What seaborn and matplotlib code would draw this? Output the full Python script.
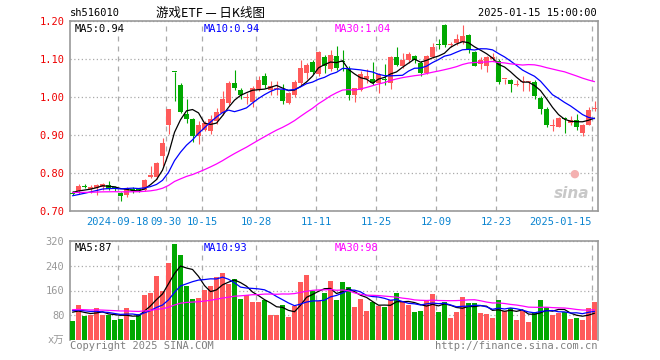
import matplotlib
matplotlib.use("Agg")
import matplotlib.pyplot as plt
import numpy as np
import pandas as pd
import seaborn as sns

# 游戏ETF sh516010 daily K-line, 2024-09-04 .. 2025-01-15
open_ = [0.748, 0.752, 0.766, 0.758, 0.760, 0.763, 0.768, 0.762, 0.747, 0.741,
         0.757, 0.757, 0.756, 0.790, 0.790, 0.844, 0.927, 1.066, 1.032, 0.954,
         0.943, 0.896, 0.914, 0.910, 0.936, 0.958, 0.984, 1.035, 1.017, 0.996,
         0.986, 1.019, 1.056, 1.017, 1.020, 1.017, 0.984, 1.006, 1.037, 1.063,
         1.091, 1.059, 1.104, 1.072, 1.107, 1.093, 1.074, 1.004, 1.017, 1.046,
         1.046, 1.037, 1.048, 1.037, 1.104, 1.081, 1.096, 1.107, 1.089, 1.063,
         1.104, 1.139, 1.188, 1.135, 1.141, 1.143, 1.162, 1.117, 1.085, 1.082,
         1.099, 1.094, 1.046, 1.044, 1.032, 1.039, 1.038, 1.040, 0.996, 0.967,
         0.924, 0.922, 0.943, 0.930, 0.939, 0.906, 0.927, 0.967]
high = [0.752, 0.772, 0.770, 0.768, 0.772, 0.773, 0.780, 0.766, 0.750, 0.763,
        0.762, 0.760, 0.785, 0.818, 0.830, 0.892, 0.969, 1.066, 1.036, 0.993,
        0.945, 0.936, 0.936, 0.953, 0.971, 1.015, 1.042, 1.070, 1.024, 1.010,
        1.028, 1.054, 1.063, 1.041, 1.041, 1.033, 1.012, 1.044, 1.098, 1.089,
        1.098, 1.120, 1.111, 1.124, 1.133, 1.124, 1.081, 1.022, 1.067, 1.072,
        1.091, 1.063, 1.085, 1.106, 1.132, 1.115, 1.117, 1.109, 1.094, 1.111,
        1.142, 1.152, 1.191, 1.143, 1.165, 1.188, 1.164, 1.120, 1.105, 1.107,
        1.115, 1.099, 1.048, 1.046, 1.043, 1.054, 1.042, 1.043, 1.001, 0.972,
        0.943, 0.946, 0.947, 0.949, 0.956, 0.928, 0.973, 0.988]
low = [0.742, 0.745, 0.760, 0.748, 0.743, 0.755, 0.756, 0.752, 0.725, 0.738,
       0.748, 0.750, 0.752, 0.786, 0.784, 0.818, 0.901, 0.988, 0.958, 0.932,
       0.881, 0.875, 0.909, 0.901, 0.928, 0.953, 0.979, 1.017, 0.993, 0.981,
       0.973, 1.015, 1.024, 1.005, 1.005, 0.980, 0.980, 1.000, 1.030, 1.046,
       1.059, 1.056, 1.063, 1.067, 1.070, 1.067, 0.991, 0.986, 1.015, 1.037,
       1.031, 1.011, 1.031, 1.020, 1.081, 1.077, 1.090, 1.089, 1.054, 1.059,
       1.101, 1.126, 1.132, 1.132, 1.136, 1.139, 1.115, 1.080, 1.072, 1.065,
       1.095, 1.034, 1.033, 1.013, 1.028, 1.014, 1.015, 0.995, 0.956, 0.921,
       0.909, 0.920, 0.905, 0.927, 0.913, 0.897, 0.925, 0.962]
close = [0.745, 0.766, 0.764, 0.762, 0.769, 0.771, 0.759, 0.757, 0.739, 0.759,
         0.755, 0.755, 0.782, 0.795, 0.826, 0.879, 0.969, 1.065, 0.960, 0.943,
         0.896, 0.925, 0.930, 0.943, 0.961, 0.993, 1.035, 1.024, 1.005, 0.998,
         1.024, 1.043, 1.031, 1.028, 1.024, 0.989, 1.009, 1.039, 1.075, 1.083,
         1.066, 1.118, 1.081, 1.109, 1.075, 1.091, 1.004, 1.022, 1.059, 1.056,
         1.037, 1.059, 1.044, 1.104, 1.083, 1.098, 1.113, 1.098, 1.063, 1.107,
         1.131, 1.137, 1.135, 1.140, 1.151, 1.161, 1.124, 1.081, 1.096, 1.105,
         1.104, 1.040, 1.047, 1.033, 1.033, 1.040, 1.040, 1.002, 0.967, 0.927,
         0.926, 0.945, 0.941, 0.940, 0.921, 0.925, 0.965, 0.969]
# volume, 万
volume = [63, 115, 77, 80, 105, 80, 82, 66, 69, 105,
          66, 85, 144, 153, 206, 157, 248, 309, 273, 174,
          134, 137, 161, 176, 202, 215, 180, 196, 134, 144,
          122, 122, 131, 82, 82, 112, 74, 109, 186, 209,
          158, 125, 151, 190, 128, 187, 171, 106, 132, 93,
          122, 111, 108, 128, 151, 122, 115, 90, 95, 128,
          150, 90, 122, 73, 92, 138, 119, 119, 89, 83,
          71, 128, 95, 105, 66, 95, 60, 92, 128, 106,
          82, 88, 91, 70, 72, 66, 105, 122]
# 29 sessions before the window (only feed the moving averages, not drawn)
pre_close = [0.755, 0.758, 0.754, 0.752, 0.756, 0.753, 0.750, 0.752, 0.755, 0.751,
             0.749, 0.753, 0.756, 0.752, 0.750, 0.748, 0.752, 0.754, 0.749, 0.751,
             0.735, 0.730, 0.728, 0.731, 0.732, 0.748, 0.752, 0.750, 0.750]
pre_volume = [102, 98, 105, 96, 100, 108, 94, 99, 103, 97,
              101, 95, 104, 99, 100, 106, 93, 98, 102, 100,
              103, 97, 101, 99, 104, 96, 100, 98, 95]

holidays = ["2024-09-16", "2024-09-17", "2024-10-01", "2024-10-02", "2024-10-03",
            "2024-10-04", "2024-10-07", "2025-01-01"]
tick_dates = ["2024-09-18", "2024-09-30", "2024-10-15", "2024-10-28", "2024-11-11",
              "2024-11-25", "2024-12-09", "2024-12-23", "2025-01-15"]

RED = "#ff5a5a"
GREEN = "#00a800"
GRID = "#aaaaaa"
MONO = ["DejaVu Sans Mono", "Noto Sans CJK SC"]

dates = pd.bdate_range("2024-09-04", "2025-01-15", freq="C", holidays=holidays)
df = pd.DataFrame({"date": dates, "o": open_, "h": high, "l": low, "c": close, "vol": volume})
df["x"] = np.arange(len(df))
df["dir"] = np.where(df["c"] >= df["o"], "up", "down")
npre = len(pre_close)
all_c = pd.Series(pre_close + close)
all_v = pd.Series(pre_volume + volume)
for w in (5, 10, 30):
    df[f"ma{w}"] = all_c.rolling(w, min_periods=1).mean().iloc[npre:].to_numpy()
    df[f"vma{w}"] = all_v.rolling(w, min_periods=1).mean().iloc[npre:].to_numpy()

sns.set_theme(style="white")
plt.rcParams["font.family"] = MONO

fig = plt.figure(figsize=(6.6, 3.6), dpi=100)
W, H = 660, 360
ax1 = fig.add_axes([70 / W, (H - 211) / H, 527.5 / W, 190.3 / H])
ax2 = fig.add_axes([70 / W, (H - 340.3) / H, 527.5 / W, 99.6 / H])

colors = np.where(df["dir"] == "up", RED, GREEN)
xlim = (-0.42, 87.5)
tick_x = [df.index[df["date"] == pd.Timestamp(d)][0] - 0.42 for d in tick_dates]

# ---- price panel
ax1.vlines(df["x"], df["l"], df["h"], colors=colors, lw=0.8, zorder=2)
body = np.maximum((df["c"] - df["o"]).abs(), 0.0026)
ax1.bar(df["x"], body, bottom=np.minimum(df["o"], df["c"]), width=0.83,
        color=colors, linewidth=0, zorder=3)
for col, clr in (("ma5", "black"), ("ma10", "#0000ff"), ("ma30", "#ff00ff")):
    sns.lineplot(data=df, x="x", y=col, color=clr, lw=0.9, ax=ax1, zorder=4)

ax1.set_xlim(*xlim)
ax1.set_ylim(0.70, 1.20)
ax1.set_yticks([0.70, 0.80, 0.90, 1.00, 1.10, 1.20])
ax1.set_yticklabels([f"{v:.2f}" for v in [0.70, 0.80, 0.90, 1.00, 1.10, 1.20]],
                    color="#ee0000", fontsize=7.5)
ax1.set_xticks(tick_x)
labels = ["2024-09-18"] + [pd.Timestamp(d).strftime("%m-%d") for d in tick_dates[1:-1]] + ["2025-01-15"]
ax1.set_xticklabels(labels, color="#0a84d0", fontsize=7.5)
ax1.get_xticklabels()[-1].set_ha("right")
ax1.tick_params(axis="both", length=0, pad=4)
ax1.grid(axis="y", ls=(0, (1, 2)), color=GRID, lw=0.9)
ax1.grid(axis="x", ls=(0, (4, 4)), color=GRID, lw=0.9)
ax1.set_xlabel("")
ax1.set_ylabel("")

ma5, ma10, ma30 = df["ma5"].iloc[-1], df["ma10"].iloc[-1], df["ma30"].iloc[-1]
ax1.text(5 / 527.5, 0.985, f"MA5:{ma5:.2f}", transform=ax1.transAxes, va="top", fontsize=7.5, color="black")
ax1.text(134 / 527.5, 0.985, f"MA10:{ma10:.2f}", transform=ax1.transAxes, va="top", fontsize=7.5, color="#0000ff")
ax1.text(265 / 527.5, 0.985, f"MA30:{ma30:.2f}", transform=ax1.transAxes, va="top", fontsize=7.5, color="#ff00ff")
ax1.text(0.985, 0.05, "sina", transform=ax1.transAxes, ha="right", va="bottom",
         fontsize=11, fontweight="bold", style="italic", color="#c8c8c8", family="DejaVu Sans")
ax1.text(0.955, 0.17, "●", transform=ax1.transAxes, ha="center", va="bottom",
         fontsize=8, color="#f4b0b0", family="DejaVu Sans")

# ---- volume panel
sns.barplot(data=df, x="x", y="vol", hue="dir", palette={"up": RED, "down": GREEN},
            native_scale=True, dodge=False, width=0.83, saturation=1, errorbar=None,
            legend=False, linewidth=0, ax=ax2, zorder=3)
for col, clr in (("vma5", "black"), ("vma10", "#0000ff"), ("vma30", "#ff00ff")):
    sns.lineplot(data=df, x="x", y=col, color=clr, lw=0.9, ax=ax2, zorder=4)
ax2.set_xlim(*xlim)
ax2.set_ylim(0, 320)
ax2.set_yticks([0, 80, 160, 240, 320])
ax2.set_yticklabels(["x万", "80", "160", "240", "320"], color="#999999", fontsize=7.5)
ax2.set_xticks(tick_x)
ax2.set_xticklabels([])
ax2.tick_params(axis="both", length=0, pad=4)
ax2.grid(axis="y", ls=(0, (1, 2)), color=GRID, lw=0.9)
ax2.grid(axis="x", ls=(0, (4, 4)), color=GRID, lw=0.9)
ax2.set_xlabel("")
ax2.set_ylabel("")
ax2.spines["bottom"].set_visible(False)

v5, v10, v30 = df["vma5"].iloc[-1], df["vma10"].iloc[-1], df["vma30"].iloc[-1]
ax2.text(5 / 527.5, 0.975, f"MA5:{v5:.0f}", transform=ax2.transAxes, va="top", fontsize=7.5, color="black")
ax2.text(134 / 527.5, 0.975, f"MA10:{v10:.0f}", transform=ax2.transAxes, va="top", fontsize=7.5, color="#0000ff")
ax2.text(265 / 527.5, 0.975, f"MA30:{v30:.0f}", transform=ax2.transAxes, va="top", fontsize=7.5, color="#ff00ff")

for ax in (ax1, ax2):
    for s in ax.spines.values():
        s.set_color("#999999")
        s.set_linewidth(1.2)

# ---- header / footer
fig.text(70 / W, 1 - 13 / H, "sh516010", fontsize=7.5, va="center", color="black")
fig.text(210 / W, 1 - 13 / H, "游戏ETF — 日K线图", fontsize=9, va="center", ha="center",
         color="black", family=["Noto Sans CJK SC", "DejaVu Sans"])
fig.text(597 / W, 1 - 13 / H, "2025-01-15 15:00:00", fontsize=7.5, va="center", ha="right", color="black")
fig.text(70 / W, 1 - 346 / H, "Copyright 2025 SINA.COM", fontsize=7.5, va="center", color="#808080")
fig.text(597 / W, 1 - 346 / H, "http://finance.sina.com.cn", fontsize=7.5, va="center", ha="right", color="#808080")

fig.savefig("out.png", dpi=100, facecolor="white")
